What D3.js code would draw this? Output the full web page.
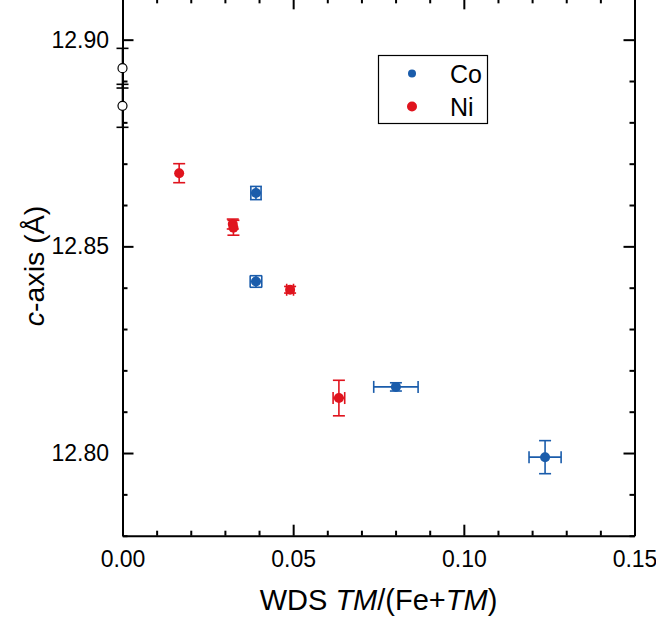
<!DOCTYPE html>
<html>
<head>
<meta charset="utf-8">
<script src="https://cdn.jsdelivr.net/npm/d3@7"></script>
<style>
  body { margin: 0; background: #fff; }
  svg { display: block; font-family: "Liberation Sans", Arial, sans-serif; }
</style>
</head>
<body>
<svg id="chart"></svg>
<script>
// Co-doped samples
const coX = [0.0391, 0.0391, 0.0801, 0.1238];
const coY = [12.8629, 12.8415, 12.8160, 12.7990];
const coXErr = [0.0015, 0.0017, 0.0065, 0.0047];
const coYErr = [0.0016, 0.0014, 0.0010, 0.0040];

// Ni-doped samples
const niX = [0.0166, 0.0323, 0.0325, 0.0491, 0.0634];
const niY = [12.8677, 12.8554, 12.8545, 12.8395, 12.8133];
const niXErr = [0, 0, 0, 0.0010, 0.0017];
const niYErr = [0.0023, 0.0012, 0.0018, 0.0008, 0.0043];

// undoped reference points (open circles)
const refX = [0, 0];
const refY = [12.8931, 12.8840];
const refYErr = [0.0048, 0.0052];

const xTicks = [0, 0.05, 0.10, 0.15];
const yTicks = [12.80, 12.85, 12.90];
const legendLabels = ["Co", "Ni"];

const width = 656, height = 623;
const blue = "#1a5cab", red = "#e0141e";

const svg = d3.select("#chart")
    .attr("width", width)
    .attr("height", height);

const x = d3.scaleLinear().domain([0, 0.15]).range([122.5, 634.5]);
const y = d3.scaleLinear().domain([12.78, 12.91]).range([535.7, -1.66]);

const minorX = d3.range(0, 0.1501, 0.01).filter(v => !xTicks.some(t => Math.abs(t - v) < 1e-6));
const minorY = d3.range(12.78, 12.9101, 0.01).filter(v => !yTicks.some(t => Math.abs(t - v) < 1e-6));

function styleAxis(g) {
    g.selectAll("path, line").attr("stroke", "#000").attr("stroke-width", 2);
    g.selectAll("text").attr("fill", "#000").style("font-size", "23px");
}

// bottom
svg.append("g")
    .attr("transform", `translate(0,${y.range()[0]})`)
    .call(d3.axisBottom(x).tickValues(xTicks).tickFormat(d3.format(".2f"))
        .tickSizeInner(-11).tickSizeOuter(0).tickPadding(14.7))
    .call(styleAxis);
svg.append("g")
    .attr("transform", `translate(0,${y.range()[0]})`)
    .call(d3.axisBottom(x).tickValues(minorX).tickFormat("").tickSizeInner(-5).tickSizeOuter(0))
    .call(styleAxis)
    .select(".domain").remove();

// top
svg.append("g")
    .attr("transform", `translate(0,${y.range()[1]})`)
    .call(d3.axisTop(x).tickValues(xTicks).tickFormat("").tickSizeInner(-11).tickSizeOuter(0))
    .call(styleAxis);
svg.append("g")
    .attr("transform", `translate(0,${y.range()[1]})`)
    .call(d3.axisTop(x).tickValues(minorX).tickFormat("").tickSizeInner(-5).tickSizeOuter(0))
    .call(styleAxis)
    .select(".domain").remove();

// left
svg.append("g")
    .attr("transform", `translate(${x.range()[0]},0)`)
    .call(d3.axisLeft(y).tickValues(yTicks).tickFormat(d3.format(".2f"))
        .tickSizeInner(-11).tickSizeOuter(0).tickPadding(13.5))
    .call(styleAxis);
svg.append("g")
    .attr("transform", `translate(${x.range()[0]},0)`)
    .call(d3.axisLeft(y).tickValues(minorY).tickFormat("").tickSizeInner(-5).tickSizeOuter(0))
    .call(styleAxis)
    .select(".domain").remove();

// right
svg.append("g")
    .attr("transform", `translate(${x.range()[1]},0)`)
    .call(d3.axisRight(y).tickValues(yTicks).tickFormat("").tickSizeInner(-11).tickSizeOuter(0))
    .call(styleAxis);
svg.append("g")
    .attr("transform", `translate(${x.range()[1]},0)`)
    .call(d3.axisRight(y).tickValues(minorY).tickFormat("").tickSizeInner(-5).tickSizeOuter(0))
    .call(styleAxis)
    .select(".domain").remove();

// axis titles
const xt = svg.append("text")
    .attr("x", (x.range()[0] + x.range()[1]) / 2)
    .attr("y", 610)
    .attr("text-anchor", "middle")
    .style("font-size", "29px");
xt.append("tspan").text("WDS ");
xt.append("tspan").style("font-style", "italic").text("TM");
xt.append("tspan").text("/(Fe+");
xt.append("tspan").style("font-style", "italic").text("TM");
xt.append("tspan").text(")");

const yt = svg.append("text")
    .attr("transform", "translate(44,266) rotate(-90)")
    .attr("text-anchor", "middle")
    .style("font-size", "28.5px");
yt.append("tspan").style("font-style", "italic").text("c");
yt.append("tspan").text("-axis (Å)");

// points with error bars
function drawSeries(xs, ys, xe, ye, color, fill, r) {
    const data = xs.map((v, i) => ({ x: v, y: ys[i], ex: xe ? xe[i] : 0, ey: ye ? ye[i] : 0 }));
    const g = svg.append("g").attr("stroke", color).attr("stroke-width", 1.6);
    const cap = 6;
    data.forEach(d => {
        const cx = x(d.x), cy = y(d.y);
        if (d.ey > 0) {
            const y0 = y(d.y - d.ey), y1 = y(d.y + d.ey);
            g.append("line").attr("x1", cx).attr("x2", cx).attr("y1", y0).attr("y2", y1);
            g.append("line").attr("x1", cx - cap).attr("x2", cx + cap).attr("y1", y0).attr("y2", y0);
            g.append("line").attr("x1", cx - cap).attr("x2", cx + cap).attr("y1", y1).attr("y2", y1);
        }
        if (d.ex > 0) {
            const x0 = x(d.x - d.ex), x1 = x(d.x + d.ex);
            g.append("line").attr("x1", x0).attr("x2", x1).attr("y1", cy).attr("y2", cy);
            g.append("line").attr("x1", x0).attr("x2", x0).attr("y1", cy - cap).attr("y2", cy + cap);
            g.append("line").attr("x1", x1).attr("x2", x1).attr("y1", cy - cap).attr("y2", cy + cap);
        }
    });
    svg.append("g").selectAll("circle")
        .data(data)
        .join("circle")
        .attr("cx", d => x(d.x))
        .attr("cy", d => y(d.y))
        .attr("r", r)
        .attr("fill", fill)
        .attr("stroke", color)
        .attr("stroke-width", fill === "#fff" ? 1.2 : 0);
}

drawSeries(refX, refY, null, refYErr, "#000", "#fff", 4.5);
drawSeries(niX, niY, niXErr, niYErr, red, red, 5);
drawSeries(coX, coY, coXErr, coYErr, blue, blue, 5);

// legend
const lg = svg.append("g");
lg.append("rect")
    .attr("x", 378.5).attr("y", 55.5)
    .attr("width", 109).attr("height", 68)
    .attr("fill", "#fff").attr("stroke", "#000").attr("stroke-width", 1.2);
const legendColors = [blue, red];
const legendR = [4, 5];
legendLabels.forEach((lab, i) => {
    const cy = 73.5 + i * 33;
    lg.append("circle").attr("cx", 412).attr("cy", cy).attr("r", legendR[i]).attr("fill", legendColors[i]);
    lg.append("text").attr("x", 450).attr("y", cy + 9.5)
        .style("font-size", "25px").text(lab);
});
</script>
</body>
</html>
